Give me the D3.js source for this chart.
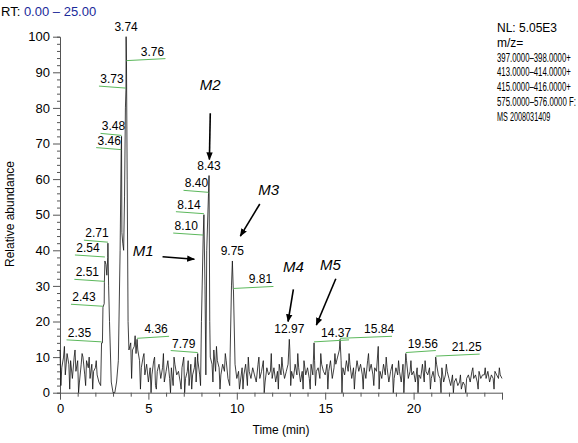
<!DOCTYPE html>
<html>
<head>
<meta charset="utf-8">
<script src="https://cdn.jsdelivr.net/npm/d3@7"></script>
<style>
  body { margin: 0; background: #fff; }
  text { font-family: Arial, "Liberation Sans", sans-serif; }
</style>
</head>
<body>
<svg id="chart" width="578" height="443"></svg>
<script>
// baseline trace, one value per 0.1 min (0.0 .. 25.0)
var baseline = [
    12,7,10,5,11,8,9,4,10,6,
    9,3,8,10,5,9,7,4,8,6,
    7,5,3,2,14,25,36,38,20,3,
    0,0,3,9,40,45,40,80,60,12,
    14,12,13,11,12,9,7,10,5,8,
    3,7,5,9,2,6,8,4,7,3,
    6,9,4,7,2,8,5,6,3,7,
    10,4,6,2,8,5,7,3,9,5,
    20,44,30,40,56,10,8,12,6,9,
    7,5,8,6,9,4,2,30,29,8,
    4,6,3,7,5,8,2,6,4,7,
    5,3,8,4,6,9,3,7,5,6,
    4,7,3,6,8,5,7,4,6,8,
    12,6,4,8,5,7,3,6,9,5,
    7,4,8,5,9,6,7,4,8,6,
    5,8,6,9,4,7,8,10,12,9,
    7,5,9,6,8,4,7,5,9,6,
    8,5,7,4,9,6,8,5,7,6,
    13,6,4,8,5,7,3,6,8,4,
    7,5,6,3,8,5,9,4,6,5,
    6,3,7,5,4,8,3,6,5,7,
    4,6,3,8,5,4,7,3,5,6,
    4,2,5,3,4,2,3,1,3,2,
    4,5,3,6,4,5,3,6,4,5,
    5,4,6,3,5,4,6,5,4,5,4
];
// extra points between grid steps: [time, value]
var spikes = [
    [0.05,2],[0.25,13],[0.55,1],[0.85,12],[1.05,0],[1.25,11],[1.45,2],[1.65,10],[1.85,1],[2.05,9],
    [2.35,14],[2.43,24],[2.51,31],[2.54,37],[2.65,33],[2.71,42],[2.75,30],
    [3.46,68],[3.48,72],[3.55,42],[3.65,55],[3.73,85],[3.74,100],[3.76,93],[3.85,20],
    [4.05,4],[4.25,16],[4.36,15],[4.55,1],[4.75,11],[5.15,0],[5.35,10],[5.45,1],[5.85,11],
    [6.25,0],[6.45,10],[6.85,1],[7.05,0],[7.25,9],[7.45,1],[7.65,10],[7.79,11],[7.95,2],
    [8.14,50],[8.25,5],[8.43,61],[8.47,20],[8.65,3],[8.85,13],[9.05,1],[9.35,11],
    [9.62,10],[9.75,37],[9.81,29],[10.15,1],[10.35,1],[10.65,10],[11.25,10],[11.55,0],
    [11.95,11],[12.35,1],[12.55,10],[12.97,15],[13.05,2],[13.45,11],[13.75,1],
    [14.15,1],[14.37,14],[14.45,2],[14.75,11],[15.15,1],[15.55,11],[15.84,15],[15.95,0],
    [16.35,11],[16.65,1],[17.15,1],[17.45,11],[17.75,2],[18.05,1],[18.45,10],[18.85,0],
    [19.15,9],[19.45,0],[19.56,11],[19.85,9],[20.25,0],[20.65,9],[20.95,1],[21.25,10],
    [21.55,0],[21.85,8],[22.25,0],[22.65,5],[22.95,0],[23.35,7],[23.65,1],[24.05,7],[24.55,1],[24.85,7]
];
// peak labels: [text, time, value, label x offset, label y offset, leader?]
var peakLabels = [
    ['3.74', 3.74, 100, 0, -6, false],
    ['3.76', 3.76, 93, 26, -6, true],
    ['3.73', 3.73, 85, -14, -7, true],
    ['3.48', 3.48, 72, -8, -6, true],
    ['3.46', 3.46, 68, -12, -6, true],
    ['2.71', 2.71, 42, -11, -6, true],
    ['2.54', 2.54, 37, -17, -9, true],
    ['2.51', 2.51, 31, -17, -6, true],
    ['2.43', 2.43, 24, -19, -6, true],
    ['2.35', 2.35, 14, -22, -6, true],
    ['4.36', 4.36, 15, 19, -6, true],
    ['7.79', 7.79, 11, -14, -6, true],
    ['8.10', 8.10, 44, -17, -6, true],
    ['8.14', 8.14, 50, -15, -6, true],
    ['8.40', 8.40, 56, -12, -6, true],
    ['8.43', 8.43, 61, 0, -6, false],
    ['9.75', 9.75, 37, 0, -6, false],
    ['9.81', 9.81, 29, 27, -6, true],
    ['12.97', 12.97, 15, 0, -6, false],
    ['14.37', 14.37, 14, 22, -6, true],
    ['15.84', 15.84, 15, 39, -6, true],
    ['19.56', 19.56, 11, 17, -6, true],
    ['21.25', 21.25, 10, 31, -6, true]
];
// metabolite arrows: [name, label x, label y, from x, from y, to x, to y] in minutes / %
var metabolites = [
    ['M1', 4.7, 38.5, 5.8, 38.2, 7.6, 37.5],
    ['M2', 8.5, 85, 8.5, 78.5, 8.45, 65.5],
    ['M3', 11.8, 55.5, 11.3, 53, 10.2, 44],
    ['M4', 13.2, 34, 13.2, 29, 12.9, 20],
    ['M5', 15.3, 34.5, 15.6, 32, 14.5, 19]
];
var xTicks = [0, 5, 10, 15, 20];
var yTicks = [0, 10, 20, 30, 40, 50, 60, 70, 80, 90, 100];
var infoLines = ['NL: 5.05E3', 'm/z=', '397.0000\u2013398.0000+', '413.0000\u2013414.0000+',
    '415.0000\u2013416.0000+', '575.0000\u2013576.0000 F:', 'MS 2008031409'];

var svg = d3.select('#chart'),
    x = d3.scaleLinear().domain([0, 25]).range([60, 502]),
    y = d3.scaleLinear().domain([0, 100]).range([392.7, 36.7]);

var trace = baseline.map(function(v, i) { return [i / 10, v]; })
    .concat(spikes)
    .sort(function(a, b) { return a[0] - b[0]; });

svg.append('defs').append('marker')
    .attr('id', 'arrow').attr('viewBox', '0 0 10 10')
    .attr('refX', 9).attr('refY', 5)
    .attr('markerWidth', 5).attr('markerHeight', 5).attr('orient', 'auto')
    .append('path').attr('d', 'M0,1 L10,5 L0,9 Z').attr('fill', '#000');

// axes
var xAxis = svg.append('g').attr('transform', 'translate(0,392.7)')
    .call(d3.axisBottom(x).tickValues(d3.range(0, 26)).tickSize(4).tickFormat(''));
xAxis.selectAll('.tick').filter(function(d) { return d % 5 === 0; }).select('line').attr('y2', 7);
svg.append('g').attr('transform', 'translate(0,392.7)')
    .call(d3.axisBottom(x).tickValues(xTicks).tickSize(0).tickPadding(11))
    .call(function(g) { g.select('.domain').remove(); });
var yAxis = svg.append('g').attr('transform', 'translate(60,0)')
    .call(d3.axisLeft(y).tickValues(d3.range(0, 101, 2)).tickSize(3).tickFormat(''));
yAxis.selectAll('.tick').filter(function(d) { return d % 10 === 0; }).select('line').attr('x2', -7);
svg.append('g').attr('transform', 'translate(60,0)')
    .call(d3.axisLeft(y).tickValues(yTicks).tickSize(0).tickPadding(10))
    .call(function(g) { g.select('.domain').remove(); });
svg.selectAll('.tick text').attr('font-size', 13).attr('fill', '#000')
    .attr('font-family', 'Arial, "Liberation Sans", sans-serif');
svg.selectAll('.domain, .tick line').attr('stroke', '#555');

svg.append('text').attr('x', 281).attr('y', 434).attr('text-anchor', 'middle')
    .attr('font-size', 12).text('Time (min)');
svg.append('text').attr('transform', 'translate(14,214) rotate(-90)').attr('text-anchor', 'middle')
    .attr('font-size', 12).text('Relative abundance');
var rt = svg.append('text').attr('x', 1).attr('y', 16).attr('font-size', 13);
rt.append('tspan').text('RT: ');
rt.append('tspan').attr('fill', '#1a2a9a').text('0.00 \u2013 25.00');

// trace
svg.append('path').datum(trace)
    .attr('fill', 'none').attr('stroke', '#111').attr('stroke-width', 0.8)
    .attr('d', d3.line().x(function(d) { return x(d[0]); }).y(function(d) { return y(d[1]); }));

// peak labels with green leader lines under the text
peakLabels.forEach(function(p) {
    var px = x(p[1]), py = y(p[2]), lx = px + p[3], ly = py + p[4];
    if (p[5]) {
        var far = p[3] < 0 ? lx - 13 : lx + 13;
        svg.append('line').attr('x1', far).attr('y1', ly + 3).attr('x2', px).attr('y2', ly + 5)
            .attr('stroke', '#5cb85c').attr('stroke-width', 1);
    }
    svg.append('text').attr('x', lx).attr('y', ly).attr('text-anchor', 'middle')
        .attr('font-size', 12).text(p[0]);
});

// metabolite arrows
metabolites.forEach(function(m) {
    svg.append('text').attr('x', x(m[1])).attr('y', y(m[2])).attr('text-anchor', 'middle')
        .attr('font-family', '"Liberation Serif", "DejaVu Serif", serif').attr('font-style', 'italic')
        .attr('font-size', 15).text(m[0]);
    svg.append('line').attr('x1', x(m[3])).attr('y1', y(m[4])).attr('x2', x(m[5])).attr('y2', y(m[6]))
        .attr('stroke', '#000').attr('stroke-width', 1.6).attr('marker-end', 'url(#arrow)');
});

// info block, squeezed to fit the right margin
svg.append('g').selectAll('text').data(infoLines).join('text')
    .attr('x', 497).attr('y', function(d, i) { return 32 + i * 14.8; })
    .attr('font-size', 12)
    .attr('textLength', function(d) { return d.length > 12 ? Math.min(79, d.length * 4.1) : null; })
    .attr('lengthAdjust', 'spacingAndGlyphs')
    .text(function(d) { return d; });
</script>
</body>
</html>
